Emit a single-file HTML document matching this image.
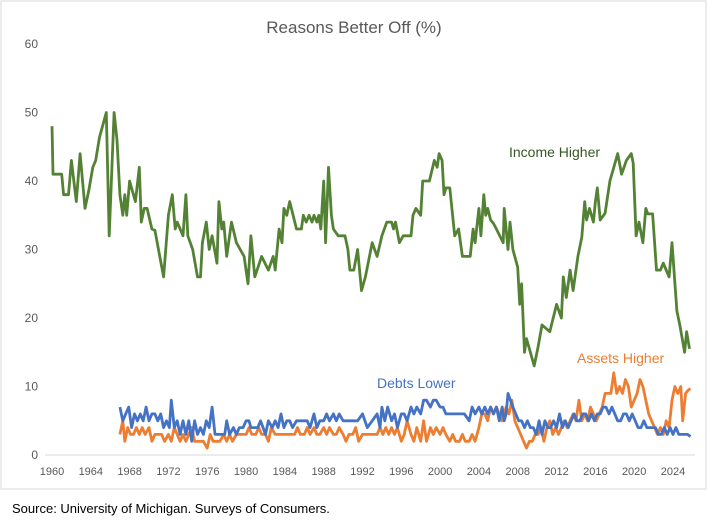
<!DOCTYPE html>
<html><head><meta charset="utf-8"><style>
body{margin:0;background:#fff;width:709px;height:520px;overflow:hidden;font-family:"Liberation Sans",sans-serif}
svg text{font-family:"Liberation Sans",sans-serif}
</style></head><body>
<svg id="chart" width="709" height="520">
<rect x="1" y="1" width="705" height="488" fill="none" stroke="#d9d9d9"/>
<text x="354" y="33" text-anchor="middle" font-size="17" fill="#595959">Reasons Better Off (%)</text>
<g id="yaxis"></g>
<g id="xaxis"></g>
<g id="series"></g>
<text x="509" y="157" font-size="14" fill="#375623">Income Higher</text>
<text x="377" y="388" font-size="14" fill="#4472c4">Debts Lower</text>
<text x="577" y="363" font-size="14" fill="#ed7d31">Assets Higher</text>
<text x="12" y="513" font-size="13" fill="#000">Source: University of Michigan. Surveys of Consumers.</text>
</svg>
<script>
const yTicks=[0,10,20,30,40,50,60];
const xTicks=[1960,1964,1968,1972,1976,1980,1984,1988,1992,1996,2000,2004,2008,2012,2016,2020,2024];
const incomeYears=[1960.0,1960.1,1961.0,1961.2,1961.7,1962.0,1962.5,1962.9,1963.4,1963.8,1964.2,1964.5,1964.9,1965.6,1965.9,1966.4,1966.7,1967.0,1967.3,1967.5,1967.7,1968.0,1968.6,1969.0,1969.2,1969.5,1969.8,1970.3,1970.6,1971.5,1972.0,1972.4,1972.7,1972.9,1973.5,1973.8,1974.0,1974.5,1975.0,1975.3,1975.5,1975.9,1976.2,1976.5,1977.0,1977.2,1977.5,1977.7,1978.0,1978.5,1979.0,1979.8,1980.2,1980.5,1980.9,1981.6,1982.3,1982.8,1983.0,1983.4,1983.7,1983.9,1984.2,1984.5,1985.2,1985.7,1985.9,1986.2,1986.5,1986.8,1987.0,1987.3,1987.5,1987.7,1988.0,1988.2,1988.5,1988.8,1989.0,1989.5,1990.2,1990.5,1990.7,1991.1,1991.5,1991.9,1992.3,1993.0,1993.5,1994.0,1994.5,1995.0,1995.2,1995.4,1995.8,1996.2,1997.0,1997.2,1997.5,1998.0,1998.2,1998.4,1998.9,1999.4,1999.7,1999.9,2000.2,2000.4,2000.6,2001.0,2001.5,2001.9,2002.3,2003.1,2003.4,2003.6,2004.0,2004.2,2004.5,2004.7,2004.9,2005.2,2005.5,2005.8,2006.5,2006.6,2007.0,2007.2,2007.5,2008.0,2008.2,2008.4,2008.7,2008.9,2009.7,2010.1,2010.5,2011.3,2012.0,2012.5,2012.7,2013.0,2013.4,2013.7,2014.2,2014.6,2014.9,2015.1,2015.4,2015.8,2016.0,2016.2,2016.5,2017.0,2017.5,2018.3,2018.7,2019.2,2019.7,2019.9,2020.2,2020.5,2020.9,2021.2,2021.4,2021.9,2022.3,2022.7,2023.0,2023.6,2023.9,2024.4,2024.7,2025.2,2025.4,2025.7];
const incomeValues=[48,41,41,38,38,43,37,44,36,38.7,42,43,46.4,50,32,50,46,38,35,38,35,40,37,42,34,36,36,33,32.8,26,35,38,33,34,32,38,32,30,26,26,31,34,30,32,28,37,33,34,29,34,31,29,25,32,26,29,27,29,27,33,31,36,35,37,33,33,35,34,35,34,35,34,35,33,40,31,42,35,33,32,32,30,27,27,30,24,26,31,29,32,34,34,33,34,31,32,32,35,36,35,40,40,40,43,42,44,43,38,39,39,32,33,29,29,33,31,36,32,38,35,36,34.3,33.8,33,31,36,30,34,30,27.4,22,25,15,17,13,15.8,19,18,22,20,26,23,27,24,29,31.8,37,34.3,36,34,37,39,34.3,35.3,40,44,41,43,44,42.6,32,34,31,36,35.2,35.2,27,27,28,26,31,21,19,15,18,15.5];
const debtsYears=[1967.0,1967.3,1967.6,1967.9,1968.2,1968.5,1968.8,1969.1,1969.4,1969.7,1970.0,1970.3,1970.6,1970.9,1971.2,1971.5,1971.8,1972.1,1972.3,1972.6,1972.9,1973.2,1973.5,1973.8,1974.1,1974.4,1974.7,1975.0,1975.3,1975.6,1975.9,1976.2,1976.5,1976.8,1977.3,1977.8,1978.0,1978.3,1978.7,1979.0,1979.3,1979.7,1980.0,1980.3,1980.5,1980.9,1981.2,1981.5,1982.0,1982.3,1982.7,1983.0,1983.3,1983.6,1983.9,1984.2,1984.5,1984.8,1985.2,1985.6,1986.0,1986.3,1986.6,1987.0,1987.3,1987.6,1988.0,1988.3,1988.6,1989.0,1989.3,1989.6,1990.0,1990.5,1991.0,1991.5,1992.0,1992.5,1993.0,1993.5,1993.8,1994.0,1994.3,1994.6,1995.0,1995.3,1995.6,1996.0,1996.3,1996.6,1997.0,1997.3,1997.6,1998.0,1998.3,1998.6,1999.0,1999.3,1999.6,2000.0,2000.3,2000.6,2001.0,2001.5,2002.0,2002.5,2003.0,2003.3,2003.6,2004.0,2004.3,2004.6,2004.9,2005.2,2005.5,2005.8,2006.1,2006.4,2006.6,2006.8,2007.0,2007.5,2007.8,2008.1,2008.4,2008.7,2009.0,2009.3,2009.6,2009.9,2010.2,2010.5,2010.8,2011.1,2011.4,2011.7,2012.0,2012.3,2012.6,2012.9,2013.2,2013.5,2013.8,2014.1,2014.4,2014.7,2015.0,2015.3,2015.6,2015.9,2016.2,2016.5,2016.8,2017.1,2017.4,2017.7,2018.0,2018.3,2018.6,2018.9,2019.2,2019.5,2019.8,2020.1,2020.4,2020.7,2021.0,2021.3,2021.6,2021.9,2022.2,2022.5,2022.8,2023.1,2023.4,2023.7,2024.0,2024.3,2024.6,2025.0,2025.5,2025.8];
const debtsValues=[7,5,6,7,4,6,5,6,5,7,5,6,6,5,6,4,5,4,8,4,5,3,5,3,5,2,5,3,4,3,5,4,7,3,3,3,5,3,4,3,4,4,5,5,4,4,4,5,3,5,4,5,4,6,4,5,5,4,5,5,5,5,4,6,4,5,5,6,5,6,5,6,5,5,5,5,6,4,5,6,4,7,5,7,5,6,4,6,6,5,7,6,7,6,8,8,7,8,8,7,7,6,6,6,6,6,5,7,6,7,6,7,6,7,6,7,5,7,5,6,9,7,6,5,5,4,5,4,4,3,5,3,5,4,4,5,4,6,4,5,4,5,6,5,5,6,6,5,6,5,6,6,7,7,6,7,6,5,5,6,6,5,6,5,4,4,5,4,4,4,4,3,3,4,3,4,3,4,3,3,3,2.7];
const assetsYears=[1967.0,1967.3,1967.5,1967.8,1968.1,1968.4,1968.7,1969.0,1969.3,1969.6,1970.0,1970.3,1970.6,1971.0,1971.3,1971.6,1972.0,1972.3,1972.6,1972.9,1973.2,1973.5,1973.8,1974.1,1974.4,1974.7,1975.0,1975.3,1975.6,1976.0,1976.3,1976.6,1977.0,1977.3,1977.7,1978.0,1978.3,1978.6,1979.0,1979.3,1979.7,1980.0,1980.3,1980.6,1981.0,1981.3,1981.6,1982.0,1982.3,1982.6,1983.0,1983.5,1984.0,1984.5,1985.0,1985.3,1985.6,1986.0,1986.3,1986.6,1987.0,1987.3,1987.6,1988.0,1988.3,1988.6,1989.0,1989.3,1989.6,1990.0,1990.3,1990.6,1991.0,1991.3,1991.6,1992.0,1992.5,1993.0,1993.5,1993.8,1994.1,1994.4,1994.7,1995.0,1995.3,1995.6,1996.0,1996.3,1996.6,1997.0,1997.3,1997.6,1998.0,1998.3,1998.6,1999.0,1999.3,1999.6,2000.0,2000.3,2000.6,2001.0,2001.3,2001.6,2002.0,2002.3,2002.6,2003.0,2003.3,2003.6,2004.0,2004.3,2004.6,2004.9,2005.2,2005.5,2005.8,2006.1,2006.4,2006.8,2007.1,2007.4,2007.7,2008.0,2008.3,2008.6,2008.9,2009.2,2009.5,2009.8,2010.1,2010.4,2010.7,2011.0,2011.3,2011.6,2011.9,2012.2,2012.5,2012.8,2013.1,2013.4,2013.7,2014.0,2014.3,2014.6,2014.9,2015.2,2015.5,2015.8,2016.1,2016.4,2016.7,2017.0,2017.3,2017.6,2017.9,2018.2,2018.5,2018.8,2019.1,2019.4,2019.7,2020.0,2020.3,2020.6,2020.9,2021.2,2021.5,2021.8,2022.1,2022.4,2022.7,2023.0,2023.3,2023.6,2023.9,2024.2,2024.5,2024.8,2025.0,2025.3,2025.6,2025.8];
const assetsValues=[3,5,2,4,3,3,4,3,4,3,4,2,3,3,3,2,3,2,4,3,2,3,2,3,4,2,2,2,2,1,3,2,2,2,3,2,3,2,3,3,3,3,4,3,3,4,3,3,2,4,3,3,3,3,3,4,3,3,4,3,4,3,3,4,3,4,3,3,4,3,2,3,3,4,2,3,3,3,3,4,3,4,3,4,3,4,2,3,5,3,2,4,2,5,2,4,3,4,3,4,3,2,3,2,2,3,2,2,3,2,4,6,6,5,7,6,7,6,5,7,6,8,5,4,3,2,1,2,2,3,3,4,2,4,5,3,4,3,4,5,4,5,6,5,8,5,6,5,7,6,5,6,7,9,9,9,12,9,10,9,11,10,7,8,9,11,10,8,6,5,4,3,4,3,5,4,8,10,9,10,5,9,9.5,9.7];

const NS="http://www.w3.org/2000/svg";
const X0=52, XPY=9.703, Y0=455, YPU=6.85;
function xScale(yr){return X0+(yr-1960)*XPY;}
function yScale(v){return Y0-v*YPU;}
const yax=document.getElementById('yaxis'), xax=document.getElementById('xaxis'), ser=document.getElementById('series');
yTicks.forEach(t=>{
  const tx=document.createElementNS(NS,'text');
  tx.setAttribute('x',38);tx.setAttribute('y',yScale(t)+4);tx.setAttribute('text-anchor','end');
  tx.setAttribute('font-size','12');tx.setAttribute('fill','#595959');tx.textContent=t;
  
  
  yax.appendChild(tx);
});
const axisLine=document.createElementNS(NS,'line');
axisLine.setAttribute('x1',45);axisLine.setAttribute('x2',695);axisLine.setAttribute('y1',Y0);axisLine.setAttribute('y2',Y0);
axisLine.setAttribute('stroke','#d9d9d9');axisLine.setAttribute('stroke-width','1');


xax.appendChild(axisLine);
xTicks.forEach(t=>{
  const tx=document.createElementNS(NS,'text');
  tx.setAttribute('x',xScale(t));tx.setAttribute('y',475);tx.setAttribute('text-anchor','middle');
  tx.setAttribute('font-size','11');tx.setAttribute('fill','#595959');tx.textContent=t;
  
  
  xax.appendChild(tx);
});
function drawLine(years,vals,color,name){
  const p=document.createElementNS(NS,'path');
  p.setAttribute('d',years.map((y,i)=>(i?'L':'M')+xScale(y).toFixed(1)+' '+yScale(vals[i]).toFixed(1)).join(' '));
  p.setAttribute('fill','none');p.setAttribute('stroke',color);p.setAttribute('stroke-width','2.8');
  p.setAttribute('stroke-linejoin','round');
  
  
  ser.appendChild(p);
}
drawLine(assetsYears,assetsValues,'#ed7d31','assets-higher-line');
drawLine(debtsYears,debtsValues,'#4472c4','debts-lower-line');
drawLine(incomeYears,incomeValues,'#548235','income-higher-line');
</script>
</body></html>
